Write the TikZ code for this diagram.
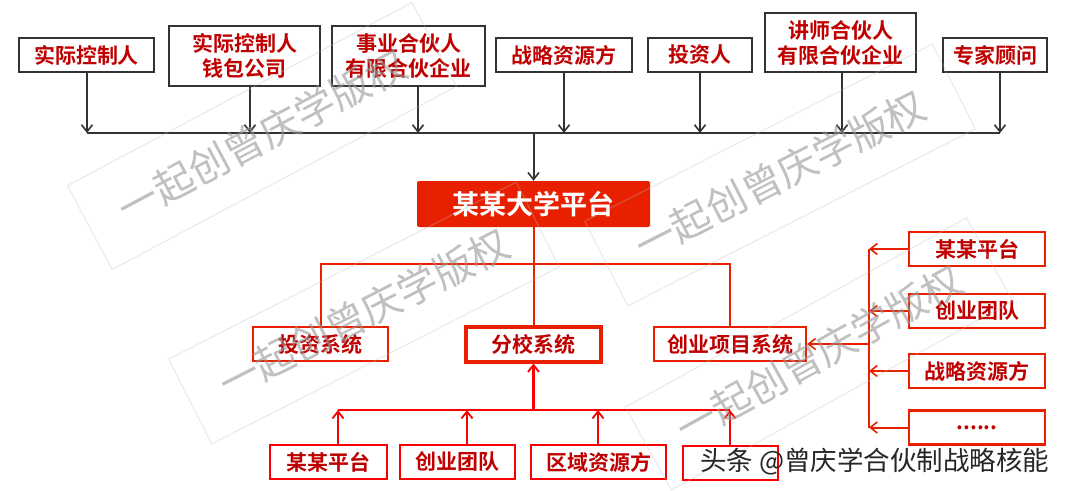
\documentclass[tikz,border=0pt]{standalone}
\usepackage{fontspec}
\newfontfamily\cjk{Noto Sans CJK SC}[BoldFont={Noto Sans CJK SC Bold}]
\usetikzlibrary{arrows.meta,calc}
\definecolor{dred}{RGB}{192,0,0}
\definecolor{mred}{RGB}{232,32,0}
\definecolor{bred}{RGB}{250,0,0}
\definecolor{dgray}{RGB}{51,51,51}
\definecolor{wmtext}{RGB}{150,150,150}
\definecolor{wmbox}{RGB}{190,190,190}
\begin{document}
\begin{tikzpicture}[x=1pt,y=-1pt,
  boxfont/.style={font=\cjk\bfseries\fontsize{21}{25}\selectfont},
  topbox/.style={boxfont,draw=dgray,line width=2pt,fill=white,text=dred,align=center,inner sep=0pt},
  redbox/.style={boxfont,draw=mred,line width=2.5pt,fill=white,text=dred,align=center,inner sep=0pt},
  brbox/.style={boxfont,draw=bred,line width=2.5pt,fill=white,text=dred,align=center,inner sep=0pt},
  mainbox/.style={font=\cjk\bfseries\fontsize{27}{30}\selectfont,fill=mred,text=white,rounded corners=2pt,inner sep=0pt,minimum width=233pt,minimum height=46pt},
  gline/.style={draw=dgray,line width=2pt},
  garrow/.style={gline,-{Straight Barb[length=7pt,width=11pt,line width=1.6pt]}},
  rline/.style={draw=mred,line width=2pt},
  rarrow/.style={rline,-{Straight Barb[length=7pt,width=11pt,line width=1.6pt]}},
  bline/.style={draw=bred,line width=2.4pt},
  barrow/.style={bline,-{Straight Barb[length=7pt,width=11pt,line width=1.8pt]}},
  wmark/.style={font=\cjk\fontsize{40}{44}\selectfont,text=wmtext,draw=wmbox,line width=1.2pt,minimum width=390pt,minimum height=95pt,text opacity=0.6,draw opacity=0.3},
  credit/.style={font=\cjk\fontsize{26.5}{30}\selectfont,text=black!85,inner sep=0pt}
]
\useasboundingbox[fill=white] (0,0) rectangle (1073,490);

% top boxes
\node[topbox,minimum width=135pt,minimum height=34pt] (t1) at (86.5,55) {实际控制人};
\node[topbox,minimum width=151pt,minimum height=60pt] (t2) at (244.5,56) {实际控制人\\钱包公司};
\node[topbox,minimum width=153pt,minimum height=60pt] (t3) at (408.5,56) {事业合伙人\\有限合伙企业};
\node[topbox,minimum width=136pt,minimum height=34pt] (t4) at (564,55) {战略资源方};
\node[topbox,minimum width=104pt,minimum height=34pt] (t5) at (700,55) {投资人};
\node[topbox,minimum width=151pt,minimum height=59pt] (t6) at (840.5,42.5) {讲师合伙人\\有限合伙企业};
\node[topbox,minimum width=104pt,minimum height=34pt] (t7) at (995,55) {专家顾问};

% bus
\coordinate (c1) at (87,133);
\coordinate (c2) at (250,133);
\coordinate (c3) at (418,133);
\coordinate (c4) at (564,133);
\coordinate (c5) at (700,133);
\coordinate (c6) at (842,133);
\coordinate (c7) at (1000,133);
\coordinate (cc) at (533.5,133);
\draw[gline] (c1) -- (c7);
\draw[garrow] (t1.south -| c1) -- (c1);
\draw[garrow] (t2.south -| c2) -- (c2);
\draw[garrow] (t3.south -| c3) -- (c3);
\draw[garrow] (t4.south -| c4) -- (c4);
\draw[garrow] (t5.south -| c5) -- (c5);
\draw[garrow] (t6.south -| c6) -- (c6);
\draw[garrow] (t7.south -| c7) -- (c7);

% main platform
\node[mainbox] (main) at (533.5,204) {某某大学平台};
\draw[garrow] (cc) -- (main.north);

% middle boxes
\node[redbox,minimum width=135pt,minimum height=34pt] (m1) at (320.5,344) {投资系统};
\node[redbox,line width=4pt,minimum width=135pt,minimum height=35pt] (m2) at (533.5,344) {分校系统};
\node[redbox,minimum width=152pt,minimum height=34pt] (m3) at (730,344) {创业项目系统};

\coordinate (h) at (533.5,264);
\draw[rline] (main.south) -- (m2.north);
\draw[rline] (m1.north) -- (m1.north |- h) -- (m3.north |- h) -- (m3.north);

% bottom boxes
\node[brbox,minimum width=117pt,minimum height=34pt] (b1) at (328.5,462) {某某平台};
\node[brbox,minimum width=115pt,minimum height=34pt] (b2) at (457.5,462) {创业团队};
\node[brbox,minimum width=135pt,minimum height=34pt] (b3) at (598.5,462) {区域资源方};
\node[brbox,minimum width=95pt,minimum height=34pt] (b4) at (730.5,463) {};

\coordinate (l1) at (338,410);
\coordinate (l2) at (467,410);
\coordinate (l3) at (598,410);
\coordinate (l4) at (730,410);
\draw[bline] (l1) -- (l4);
\draw[barrow] (m2.south |- l1) -- (m2.south);
\draw[barrow] (b1.north -| l1) -- (l1);
\draw[barrow] (b2.north -| l2) -- (l2);
\draw[barrow] (b3.north -| l3) -- (l3);
\draw[barrow] (b4.north -| l4) -- (l4);

% right boxes
\node[redbox,minimum width=136pt,minimum height=34pt] (r1) at (977,249) {某某平台};
\node[redbox,minimum width=136pt,minimum height=34pt] (r2) at (977,311) {创业团队};
\node[redbox,minimum width=136pt,minimum height=34pt] (r3) at (977,371) {战略资源方};
\node[redbox,minimum width=136pt,minimum height=34pt] (r4) at (977,427.5) {......};

\coordinate (v1) at (869,249);
\coordinate (v2) at (869,428);
\draw[rline] (v1) -- (v2);
\draw[rarrow] (r1.west) -- (r1.west -| v1);
\draw[rarrow] (r2.west) -- (r2.west -| v1);
\draw[rarrow] (r3.west) -- (r3.west -| v1);
\draw[rarrow] (r4.west) -- (r4.west -| v1);
\draw[rarrow] (v1 |- m3.east) -- (m3.east);

% watermarks (semi-transparent, on top as in the reference)
\node[wmark,rotate=28] (w1) at (262,136) {一起创曾庆学版权};
\node[wmark,rotate=27] (w2) at (364,313) {一起创曾庆学版权};
\node[wmark,rotate=27] (w3) at (780,175) {一起创曾庆学版权};
\node[wmark,rotate=29] (w4) at (819,354) {一起创曾庆学版权};

% credit text
\node[credit,anchor=west] (cr) at (700,462) {头条 @曾庆学合伙制战略核能};
\end{tikzpicture}
\end{document}
